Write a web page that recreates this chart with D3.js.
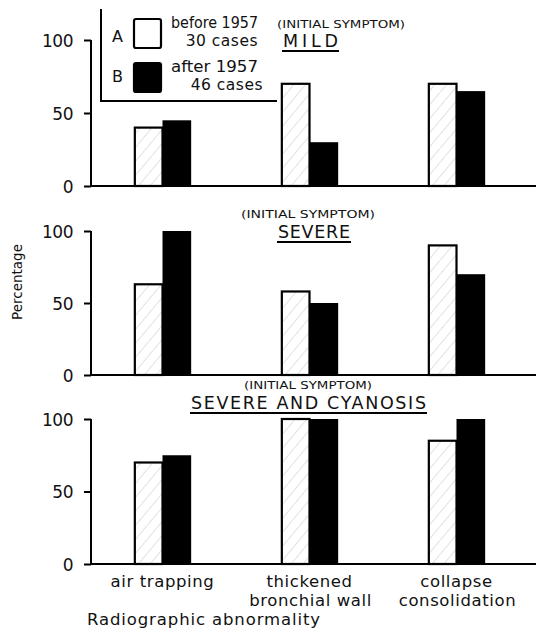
<!DOCTYPE html>
<html><head><meta charset="utf-8">
<script src="https://cdn.jsdelivr.net/npm/d3@7"></script>
<style>body{margin:0;background:#fff}svg{display:block}text{font-family:"DejaVu Sans",sans-serif;fill:#111}</style>
</head><body>
<svg id="c" width="536" height="630"></svg>
<script>
const categories = ["air trapping", "thickened bronchial wall", "collapse consolidation"];
const categoryLines = [["air trapping"], ["thickened", "bronchial wall"], ["collapse", "consolidation"]];
const seriesKeys = ["A", "B"];
const seriesLabels = [["before 1957", "30 cases"], ["after 1957", "46 cases"]];
const panelTitles = ["MILD", "SEVERE", "SEVERE AND CYANOSIS"];
const panelSubtitle = "(INITIAL SYMPTOM)";
const mildA = [40, 70, 70];
const mildB = [45, 30, 65];
const severeA = [63, 58, 90];
const severeB = [100, 50, 70];
const cyanA = [70, 100, 85];
const cyanB = [75, 100, 100];
const yTicks = [0, 50, 100];
const yLabel = "Percentage";
const xLabel = "Radiographic abnormality";

const panels = [
  {A: mildA, B: mildB, y0: 186, y1: 40},
  {A: severeA, B: severeB, y0: 375, y1: 231},
  {A: cyanA, B: cyanB, y0: 564, y1: 419}
];

const svg = d3.select("#c");
const defs = svg.append("defs");
const pat = defs.append("pattern").attr("id","hatch").attr("patternUnits","userSpaceOnUse")
  .attr("width",9).attr("height",9).attr("patternTransform","rotate(40)");
pat.append("rect").attr("width",9).attr("height",9).attr("fill","#fff");
pat.append("line").attr("x1",0).attr("y1",0).attr("x2",0).attr("y2",9)
  .attr("stroke","#b8b8b8").attr("stroke-width",0.8);

const axisX = 91;
const x0 = d3.scaleBand().domain(categories).range([89, 530]).paddingInner(0.61).paddingOuter(0.305);
const x1 = d3.scaleBand().domain(seriesKeys).range([0, x0.bandwidth()]);

panels.forEach((p, pi) => {
  const y = d3.scaleLinear().domain([0, 100]).range([p.y0, p.y1]);
  const g = svg.append("g");
  const data = categories.map((c, i) => ({c, A: p.A[i], B: p.B[i]}));
  g.selectAll(".b").data(data).join("rect")
    .attr("x", d => x0(d.c) + x1("B"))
    .attr("width", x1.bandwidth())
    .attr("y", d => y(d.B)).attr("height", d => y(0) - y(d.B))
    .attr("fill", "#000");
  g.selectAll(".a").data(data).join("rect")
    .attr("x", d => x0(d.c) + x1("A") + 1)
    .attr("width", x1.bandwidth() - 1)
    .attr("y", d => y(d.A)).attr("height", d => y(0) - y(d.A))
    .attr("fill", "url(#hatch)").attr("stroke", "#000").attr("stroke-width", 2.2);
  const ax = g.append("g").attr("transform", `translate(${axisX},0)`)
    .call(d3.axisLeft(y).tickValues(yTicks).tickSize(7).tickFormat(d3.format("d")));
  ax.select(".domain").remove();
  ax.selectAll(".tick line").attr("stroke","#000").attr("stroke-width",2);
  ax.selectAll(".tick text").attr("x",-18).attr("dy","0.36em")
    .style("font-size","17px").style("letter-spacing","-0.5px").attr("fill","#111");
  g.append("line").attr("x1",axisX).attr("x2",axisX).attr("y1",y(100)).attr("y2",y(0)+1)
    .attr("stroke","#000").attr("stroke-width",2);
  g.append("line").attr("x1",axisX).attr("x2",536).attr("y1",y(0)).attr("y2",y(0))
    .attr("stroke","#000").attr("stroke-width",2.2);
});

const titleSpecs = [
  {sub:[277,405,28], main:[283,338,47], ul:51},
  {sub:[241,375,218], main:[278,350,238], ul:242},
  {sub:[244,372,389], main:[191,426,409], ul:413}
];
titleSpecs.forEach((t, i) => {
  svg.append("text").attr("x", t.sub[0]).attr("y", t.sub[2]).text(panelSubtitle)
    .style("font-size","10.5px").attr("textLength", t.sub[1]-t.sub[0]).attr("lengthAdjust","spacingAndGlyphs");
  svg.append("text").attr("x", t.main[0]).attr("y", t.main[2]).text(panelTitles[i])
    .style("font-size","17.5px").attr("textLength", t.main[1]-t.main[0]).attr("lengthAdjust","spacing");
  svg.append("line").attr("x1", t.main[0]-1).attr("x2", t.main[1]+1).attr("y1", t.ul).attr("y2", t.ul)
    .attr("stroke","#000").attr("stroke-width",2);
});

svg.append("path").attr("d","M101,9 V101 H277").attr("fill","none").attr("stroke","#000").attr("stroke-width",2);
const legY = [[18,49],[62,93]];
seriesKeys.forEach((k, i) => {
  svg.append("rect").attr("x",134).attr("y",legY[i][0]+1).attr("width",27).attr("height",legY[i][1]-legY[i][0]-2)
    .attr("fill", i===0 ? "#fff" : "#000").attr("stroke","#000").attr("stroke-width",2.2).attr("rx",2);
  svg.append("text").attr("x",112).attr("y",legY[i][0]+(i===0?24:20)).text(k).style("font-size","16px");
  svg.append("text").attr("x",171).attr("y",legY[i][0]+10).text(seriesLabels[i][0])
    .style("font-size","15.5px").attr("textLength",87).attr("lengthAdjust","spacingAndGlyphs");
  svg.append("text").attr("x", i===0 ? 258 : 263).attr("y",legY[i][0]+28).text(seriesLabels[i][1])
    .attr("text-anchor","end").style("font-size","15.5px").style("letter-spacing","0.5px");
});

categoryLines.forEach((lines, i) => {
  lines.forEach((ln, j) => {
    svg.append("text").attr("x", x0(categories[i]) + x0.bandwidth()/2 + (j===1 ? 1 : 0))
      .attr("y", 587 + j*19).attr("text-anchor","middle").text(ln).style("font-size","16.5px").style("letter-spacing","0.6px");
  });
});
svg.append("text").attr("x",87).attr("y",625).text(xLabel).style("font-size","16.5px")
  .attr("textLength",233).attr("lengthAdjust","spacing");
svg.append("text").attr("transform","translate(22,282) rotate(-90)").attr("text-anchor","middle")
  .text(yLabel).style("font-size","13.5px");
</script>
</body></html>
